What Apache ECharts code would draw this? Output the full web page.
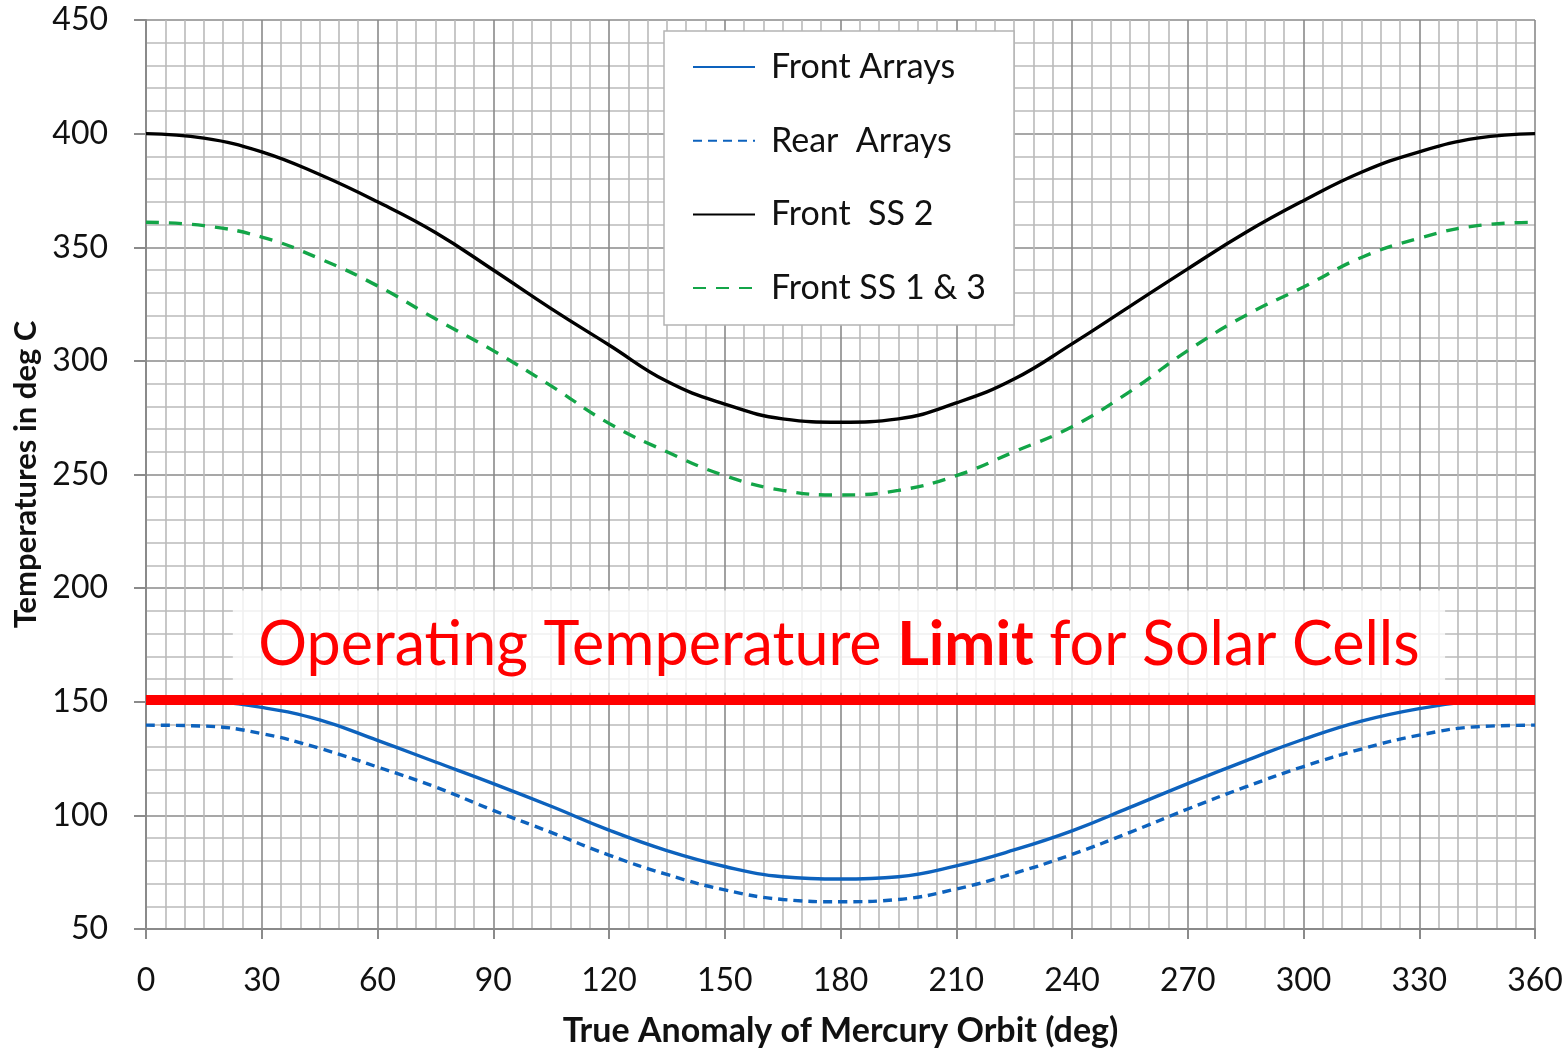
<!DOCTYPE html>
<html>
<head>
<meta charset="utf-8">
<style>
  html, body { margin: 0; padding: 0; background: #fff; overflow: hidden; }
  #chart { width: 1568px; height: 1053px; }
</style>
<script src="https://cdn.jsdelivr.net/npm/echarts@6/dist/echarts.min.js"></script>
</head>
<body>
<div id="chart"></div>
<script>
// True anomaly sample points (deg)
const anomaly = [0, 15, 30, 45, 60, 75, 90, 105, 120, 135, 150, 165, 180,
                 195, 210, 225, 240, 255, 270, 285, 300, 315, 330, 345, 360];

// Temperatures in deg C
const frontArrays = [152, 150.5, 147.5, 142, 133, 123.5, 114, 104, 93.5, 84.5, 77.5, 73, 72,
                     73, 77.8, 84.8, 93.2, 103.5, 114, 124, 133.5, 141.5, 147, 150.5, 152];
const rearArrays  = [139.7, 139.3, 136, 129.5, 121.3, 112.5, 102.2, 92.5, 82.5, 74, 67.2, 63, 62,
                     63, 67.6, 74.5, 82.8, 92.5, 102.8, 112.5, 121.5, 129.2, 135.3, 139, 139.7];
const frontSS2    = [400, 398, 392, 382, 370, 356.5, 340, 323, 307, 291, 281, 274.5, 273,
                     274.5, 281.5, 292, 307.5, 324, 340.5, 356.5, 370.5, 383, 392, 398, 400];
const frontSS13   = [361, 359.5, 354.5, 345, 333, 318.5, 304.5, 289, 272.5, 260, 249.5, 243, 241,
                     243, 249.5, 260, 271, 286.5, 304.5, 320, 332.5, 345.5, 354, 359.5, 361];

// Operating limit and its caption band
const limitTemp = 151;
const captionBand = { x: [22.5, 336.7], y: [154, 199] };

const seriesNames = ['Front Arrays', 'Rear  Arrays', 'Front  SS 2', 'Front SS 1 & 3'];

const FONT = 'Lato, "Open Sans", sans-serif';

function pairs(vals) { return anomaly.map((a, i) => [a, vals[i]]); }

const chart = echarts.init(document.getElementById('chart'), null, { renderer: 'canvas' });

const lineBase = { type: 'line', symbol: 'none', smooth: 0.45, z: 3 };

chart.setOption({
  animation: false,
  backgroundColor: '#ffffff',
  grid: { left: 146, right: 33, top: 20, bottom: 121, containLabel: false },
  legend: {
    orient: 'vertical',
    left: 664, top: 31,
    backgroundColor: '#ffffff',
    borderColor: '#b4b4b4', borderWidth: 1.5,
    padding: [19, 28, 20, 28],
    itemWidth: 62, itemHeight: 20, itemGap: 39.7,
    itemStyle: { opacity: 0 },
    textStyle: { fontFamily: FONT, fontSize: 34, lineHeight: 34, color: '#111', padding: [0, 0, 0, 11] },
    data: seriesNames,
    z: 10
  },
  xAxis: {
    type: 'value', min: 0, max: 360, interval: 30,
    name: 'True Anomaly of Mercury Orbit (deg)',
    nameLocation: 'middle', nameGap: 85,
    nameTextStyle: { fontFamily: FONT, fontSize: 34, fontWeight: 'bold', color: '#111' },
    axisLine: { show: true, lineStyle: { color: '#8a8a8a', width: 2 } },
    axisTick: { show: true, inside: false, length: 10, lineStyle: { color: '#8a8a8a', width: 2 } },
    axisLabel: { fontFamily: FONT, fontSize: 32, color: '#111', margin: 36 },
    splitLine: { show: true, lineStyle: { color: '#8a8a8a', width: 1.6 } },
    minorTick: { show: false, splitNumber: 6 },
    minorSplitLine: { show: true, lineStyle: { color: '#bababa', width: 1.6 } }
  },
  yAxis: {
    type: 'value', min: 50, max: 450, interval: 50,
    name: 'Temperatures in deg C',
    nameLocation: 'middle', nameGap: 100,
    nameTextStyle: { fontFamily: FONT, fontSize: 31, fontWeight: 'bold', color: '#111' },
    axisLine: { show: true, lineStyle: { color: '#8a8a8a', width: 2 } },
    axisTick: { show: true, inside: false, length: 12, lineStyle: { color: '#8a8a8a', width: 2 } },
    axisLabel: { fontFamily: FONT, fontSize: 32, color: '#111', margin: 38 },
    splitLine: { show: true, lineStyle: { color: '#8a8a8a', width: 1.6 } },
    minorTick: { show: false, splitNumber: 5 },
    minorSplitLine: { show: true, lineStyle: { color: '#bababa', width: 1.6 } }
  },
  series: [
    Object.assign({}, lineBase, {
      name: seriesNames[0], data: pairs(frontArrays),
      lineStyle: { color: '#0d62bd', width: 3.4, type: 'solid' },
      itemStyle: { color: '#0d62bd' }
    }),
    Object.assign({}, lineBase, {
      name: seriesNames[1], data: pairs(rearArrays),
      lineStyle: { color: '#0d62bd', width: 3.4, type: [9, 6] },
      itemStyle: { color: '#0d62bd' }
    }),
    Object.assign({}, lineBase, {
      name: seriesNames[2], data: pairs(frontSS2),
      lineStyle: { color: '#000000', width: 3.4, type: 'solid' },
      itemStyle: { color: '#000000' }
    }),
    Object.assign({}, lineBase, {
      name: seriesNames[3], data: pairs(frontSS13),
      lineStyle: { color: '#13a548', width: 3.4, type: [13, 10] },
      itemStyle: { color: '#13a548' }
    }),
    {
      // operating limit line with its caption
      type: 'line', name: 'limit', data: [], z: 6, silent: true,
      markArea: {
        silent: true,
        itemStyle: { color: 'rgba(255,255,255,0.78)' },
        label: {
          show: true, position: 'inside', offset: [0, 4],
          fontFamily: FONT, fontSize: 61, color: '#ff0000',
          formatter: 'Operating Temperature {b|Limit} for Solar Cells',
          rich: { b: { fontFamily: FONT, fontSize: 61, fontWeight: 'bold', color: '#ff0000' } }
        },
        data: [[
          { coord: [captionBand.x[0], captionBand.y[1]] },
          { coord: [captionBand.x[1], captionBand.y[0]] }
        ]]
      },
      markLine: {
        silent: true, symbol: ['none', 'none'],
        label: { show: false },
        lineStyle: { color: '#ff0000', width: 10, type: 'solid' },
        data: [{ yAxis: limitTemp }]
      }
    }
  ]
});
</script>
</body>
</html>
